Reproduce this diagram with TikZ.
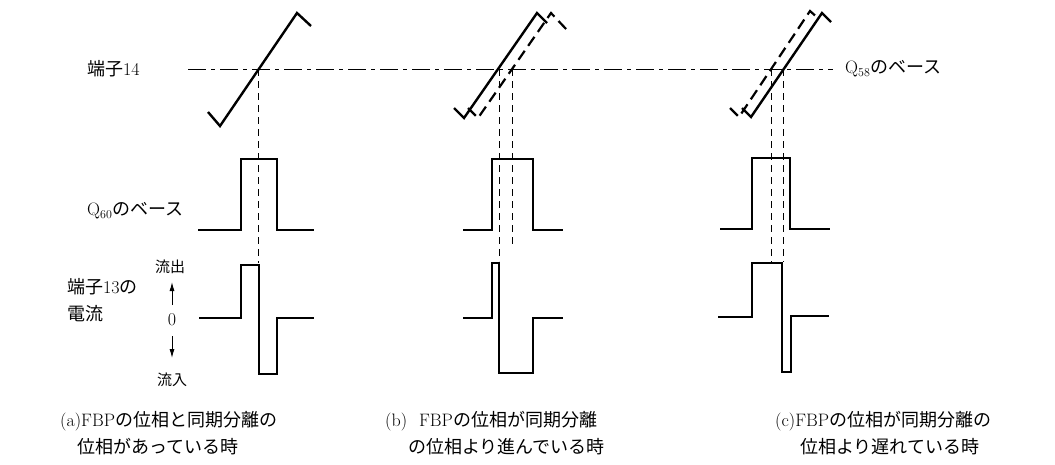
\documentclass[tikz,border=0pt]{standalone}
\usepackage{fontspec}
\newfontfamily\jp{Noto Sans CJK JP}
\usetikzlibrary{arrows.meta}
\begin{document}
\begin{tikzpicture}[x=1pt,y=-1pt,
  wave/.style={line width=2.4pt,line join=miter},
  dwave/.style={line width=2.2pt,dash pattern=on 11pt off 6pt},
  vdash/.style={line width=0.9pt,dash pattern=on 7pt off 5pt},
  refline/.style={line width=0.9pt,dash pattern=on 18pt off 5pt on 4pt off 5pt},
  arr/.style={line width=1pt,-{Latex[length=9pt,width=5pt]}},
  lbl/.style={inner sep=0pt,font=\fontsize{18}{20}\selectfont},
  slbl/.style={inner sep=0pt,font=\fontsize{15}{16}\selectfont},
  captxt/.style={inner sep=0pt,align=left,font=\fontsize{18}{27}\selectfont}]
\useasboundingbox (0,0) rectangle (1055,464);
% reference line
\coordinate (rl) at (188,69);
\node[lbl,anchor=west] (q58) at (845,69) {Q$_{58}${\jp のベース}};
\draw[refline,shorten >=12pt] (rl) -- (q58.west);
% labels left
\node[lbl,anchor=west] (t14) at (87,69) {{\jp 端子}14};
\node[lbl,anchor=west] (q60) at (87,211) {Q$_{60}${\jp のベース}};
\node[lbl,anchor=west] (t13) at (67,287) {{\jp 端子}13{\jp の}};
\node[lbl,anchor=west] (den) at (67,314) {{\jp 電流}};
\node[slbl] (out) at (170,267) {{\jp 流出}};
\node[lbl] (zero) at (172,320) {0};
\node[slbl] (in) at (172,380) {{\jp 流入}};
\coordinate (u1) at (172,305); \coordinate (u2) at (172,282);
\coordinate (d1) at (172,336); \coordinate (d2) at (172,358);
\draw[arr] (u1) -- (u2);
\draw[arr] (d1) -- (d2);

% ---------- (a)
\draw[wave] (208,112) -- (220,126) -- (297,13) -- (311,26);
\draw[wave] (198,230) -- (241,230) -- (241,159) -- (277,159) -- (277,230) -- (314,230);
\draw[wave] (199,318) -- (241,318) -- (241,265) -- (259,265) -- (259,374) -- (277,374) -- (277,318) -- (314,318);
\coordinate (a1) at (258,69); \coordinate (a1e) at (258,263);
\draw[vdash] (a1) -- (a1e);

% ---------- (b)
\draw[wave] (454,108) -- (464,118) -- (537,13) -- (547,23);
\draw[dwave] (468,108) -- (478,118) -- (551,13) -- (567,30);
\draw[wave] (463,230) -- (492,230) -- (492,159) -- (533,159) -- (533,230) -- (563,230);
\draw[wave] (463,318) -- (492,318) -- (492,263) -- (499,263) -- (499,373) -- (533,373) -- (533,318) -- (563,318);
\coordinate (b1) at (499,69); \coordinate (b1e) at (499,261);
\coordinate (b2) at (512,69); \coordinate (b2e) at (512,245);
\draw[vdash] (b1) -- (b1e);
\draw[vdash] (b2) -- (b2e);

% ---------- (c)
\draw[wave] (742,108) -- (751,117) -- (822,13) -- (831,22);
\draw[dwave] (730,108) -- (739,117) -- (810,11) -- (819,19);
\draw[wave] (720,229) -- (752,229) -- (752,158) -- (790,158) -- (790,229) -- (830,229);
\draw[wave] (718,317) -- (752,317) -- (752,263) -- (782,263) -- (782,372) -- (791,372) -- (791,316) -- (829,316);
\coordinate (c1) at (771,69); \coordinate (c1e) at (771,262);
\coordinate (c2) at (783,69); \coordinate (c2e) at (783,262);
\draw[vdash] (c1) -- (c1e);
\draw[vdash] (c2) -- (c2e);

% captions
\node[captxt,anchor=north west] (capa) at (60,411) {(a)FBP{\jp の位相と同期分離の}\\\hspace*{17pt}{\jp 位相があっている時}};
\node[captxt,anchor=north west] (capb) at (385,411) {(b)\hspace*{12pt}FBP{\jp の位相が同期分離}\\\hspace*{23pt}{\jp の位相より進んでいる時}};
\node[captxt,anchor=north west] (capc) at (775,411) {(c)FBP{\jp の位相が同期分離の}\\\hspace*{25pt}{\jp 位相より遅れている時}};
\end{tikzpicture}
\end{document}
